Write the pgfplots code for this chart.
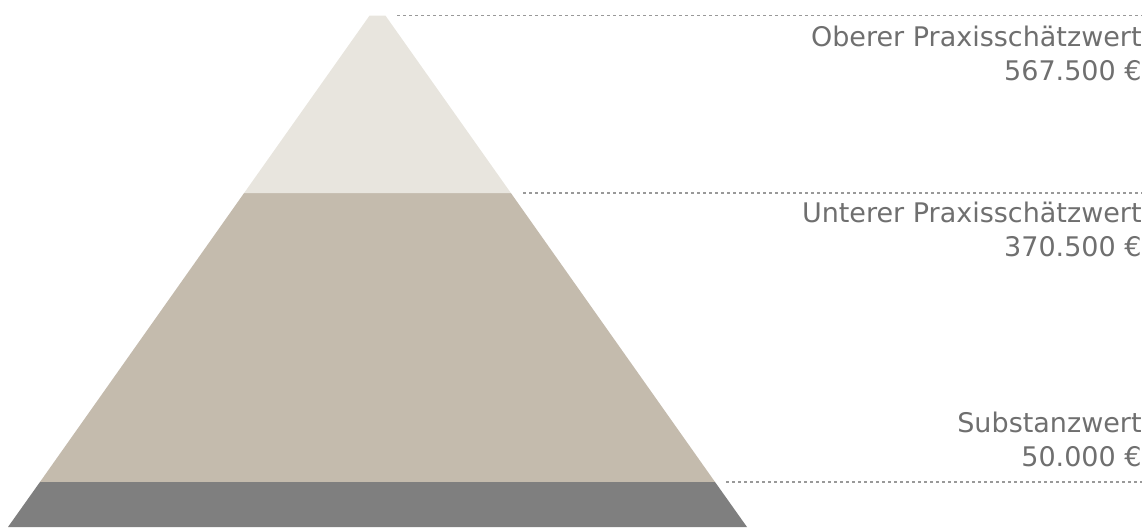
\documentclass[border=0pt]{standalone}
\usepackage{fontspec}
\setmainfont{DejaVu Sans}
\usepackage{pgfplots}
\pgfplotsset{compat=1.18}
\definecolor{topc}{HTML}{E8E5DE}
\definecolor{midc}{HTML}{C4BBAD}
\definecolor{botc}{HTML}{7F7F7F}
\definecolor{txtc}{HTML}{6F6F6F}
\definecolor{dotc}{HTML}{999999}
\begin{document}
\begin{tikzpicture}
\begin{axis}[
  width=573.5pt, height=263.5pt, scale only axis,
  xmin=0, xmax=1147, ymin=0, ymax=584906,
  hide axis, clip=false,
]
\path (rel axis cs:0,0) rectangle (rel axis cs:1,1);
% Substanzwert layer
\addplot[draw=none, fill=botc] coordinates {(8,0) (747,0) (715,50000) (40,50000)} -- cycle;
% Unterer Praxisschaetzwert layer
\addplot[draw=none, fill=midc] coordinates {(40,50000) (715,50000) (511,370500) (244,370500)} -- cycle;
% Oberer Praxisschaetzwert layer
\addplot[draw=none, fill=topc] coordinates {(244,370500) (511,370500) (385.5,567500) (369.5,567500)} -- cycle;
% dotted guide lines
\addplot[dotc, line width=0.75pt, dash pattern=on 1.4pt off 1.6pt] coordinates {(397,567500) (1142,567500)};
\addplot[dotc, line width=0.75pt, dash pattern=on 1.4pt off 1.6pt] coordinates {(523,370500) (1142,370500)};
\addplot[dotc, line width=0.75pt, dash pattern=on 1.4pt off 1.6pt] coordinates {(726,50000) (1142,50000)};
% labels
\begingroup
\fontsize{13.5pt}{16.75pt}\selectfont
\node[anchor=base east, inner sep=0pt, text=txtc, font=\fontsize{13.5pt}{16.75pt}\selectfont] at (axis cs:1142,533296) {Oberer Praxisschätzwert};
\node[anchor=base east, inner sep=0pt, text=txtc, font=\fontsize{13.5pt}{16.75pt}\selectfont] at (axis cs:1142,496115) {567.500 €};
\node[anchor=base east, inner sep=0pt, text=txtc, font=\fontsize{13.5pt}{16.75pt}\selectfont] at (axis cs:1142,337958) {Unterer Praxisschätzwert};
\node[anchor=base east, inner sep=0pt, text=txtc, font=\fontsize{13.5pt}{16.75pt}\selectfont] at (axis cs:1142,300777) {370.500 €};
\node[anchor=base east, inner sep=0pt, text=txtc, font=\fontsize{13.5pt}{16.75pt}\selectfont] at (axis cs:1142,104661) {Substanzwert};
\node[anchor=base east, inner sep=0pt, text=txtc, font=\fontsize{13.5pt}{16.75pt}\selectfont] at (axis cs:1142,67703) {50.000 €};
\endgroup
\end{axis}
\end{tikzpicture}
\end{document}
